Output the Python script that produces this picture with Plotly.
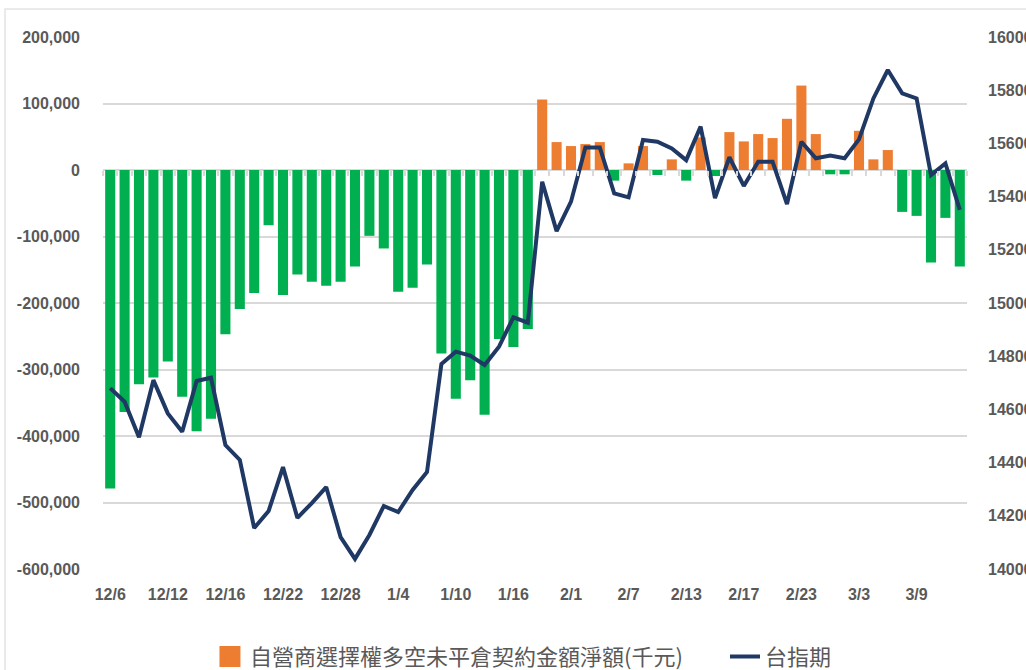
import plotly.graph_objects as go

dates = ["12/6","12/7","12/8","12/9","12/12","12/13","12/14","12/15","12/16","12/19",
         "12/20","12/21","12/22","12/23","12/26","12/27","12/28","12/29","12/30","1/3",
         "1/4","1/5","1/6","1/9","1/10","1/11","1/12","1/13","1/16","1/17",
         "1/30","1/31","2/1","2/2","2/3","2/6","2/7","2/8","2/9","2/10",
         "2/13","2/14","2/15","2/16","2/17","2/20","2/21","2/22","2/23","2/24",
         "3/1","3/2","3/3","3/6","3/7","3/8","3/9","3/10","3/13","3/14"]

net_amount = [-479000,-364000,-322000,-312000,-288000,-341000,-393000,-374000,-247000,-209000,
              -185000,-83000,-188000,-157000,-168000,-174000,-168000,-145000,-99000,-118000,
              -183000,-177000,-142000,-276000,-344000,-316000,-368000,-254000,-266000,-239000,
              106000,42000,36000,39000,42000,-16000,10000,36000,-7500,16000,
              -16000,49000,-9000,57000,43000,54000,48000,77000,127000,54000,
              -6500,-6500,59000,16000,30000,-63000,-69000,-139000,-72000,-145000]

taiex_fut = [14680,14629,14495,14710,14585,14516,14707,14719,14466,14410,
             14154,14218,14383,14192,14248,14308,14120,14038,14128,14237,
             14214,14297,14365,14771,14817,14802,14767,14836,14946,14926,
             15456,15270,15381,15585,15585,15412,15397,15613,15606,15581,
             15537,15663,15394,15548,15440,15531,15531,15372,15606,15544,
             15554,15544,15615,15769,15876,15788,15769,15481,15525,15350]

left_ticks = [-600000,-500000,-400000,-300000,-200000,-100000,0,100000,200000]
left_tick_text = ["-600,000","-500,000","-400,000","-300,000","-200,000","-100,000","0","100,000","200,000"]
right_ticks = [14000,14200,14400,14600,14800,15000,15200,15400,15600,15800,16000]
x_tick_labels = dates[::4]

bar_name = "自營商選擇權多空未平倉契約金額淨額(千元)"
line_name = "台指期"

ORANGE = "#ED7D31"
GREEN = "#00B050"
NAVY = "#1F3864"
GRID = "#D9D9D9"
TXT = "#595959"
TICKFONT = dict(family="Liberation Sans, Arial, sans-serif", size=16, color=TXT, weight="bold")
LEGFONT = dict(family="Noto Sans CJK TC, sans-serif", size=22, color=TXT)

pos_x = [d for d, v in zip(dates, net_amount) if v >= 0]
pos_y = [v for v in net_amount if v >= 0]
neg_x = [d for d, v in zip(dates, net_amount) if v < 0]
neg_y = [v for v in net_amount if v < 0]

fig = go.Figure()
fig.add_trace(go.Bar(x=pos_x, y=pos_y, marker=dict(color=ORANGE, line=dict(width=0)),
                     name=bar_name, showlegend=False))
fig.add_trace(go.Bar(x=neg_x, y=neg_y, marker=dict(color=GREEN, line=dict(width=0)),
                     name=bar_name, showlegend=False))
# legend proxy for the bar series
fig.add_trace(go.Scatter(x=[None], y=[None], mode="markers", name=bar_name, legend="legend",
                         marker=dict(symbol="square", size=16, color=ORANGE,
                                     line=dict(color=ORANGE, width=5))))
fig.add_trace(go.Scatter(x=dates, y=taiex_fut, mode="lines", name=line_name, legend="legend2",
                         line=dict(color=NAVY, width=4), xaxis="x2", yaxis="y2"))

fig.update_layout(
    width=1026, height=670,
    margin=dict(l=103, r=59, t=37, b=101, autoexpand=False),
    paper_bgcolor="white", plot_bgcolor="white",
    barmode="overlay", bargap=0.3,
    font=dict(family="Noto Sans CJK TC, sans-serif", color=TXT),
    xaxis=dict(type="category", categoryorder="array", categoryarray=dates,
               range=[-0.5, len(dates) - 0.5],
               tickmode="array", tickvals=x_tick_labels, ticktext=x_tick_labels,
               tickfont=TICKFONT, showgrid=False, showline=False, zeroline=False,
               ticks="", ticklabelstandoff=14, automargin=False),
    xaxis2=dict(type="category", categoryorder="array", categoryarray=dates,
                overlaying="x", anchor="free", position=0.75,
                range=[-0.5, len(dates) - 0.5], tickson="boundaries",
                tickmode="array", tickvals=dates,
                ticks="outside", ticklen=5, tickwidth=1.5, tickcolor=GRID,
                showticklabels=False, showgrid=False, showline=False, zeroline=False,
                automargin=False),
    yaxis=dict(range=[-600000, 200000], tickmode="array", tickvals=left_ticks,
               ticktext=left_tick_text, tickfont=TICKFONT, showgrid=True,
               gridcolor=GRID, gridwidth=1.5, zeroline=False, showline=False,
               ticks="", ticklabelstandoff=22, automargin=False),
    yaxis2=dict(range=[14000, 16000], overlaying="y", side="right", anchor="x2",
                tickmode="array", tickvals=right_ticks, tickformat="d", tickfont=TICKFONT,
                showgrid=False, zeroline=False, showline=False, ticks="",
                ticklabelstandoff=20, automargin=False),
    legend=dict(orientation="h", x=0.1238, xanchor="left", y=-0.165, yanchor="middle",
                font=LEGFONT, itemwidth=30),
    legend2=dict(orientation="h", x=0.7199, xanchor="left", y=-0.165, yanchor="middle",
                 font=LEGFONT, itemwidth=30),
    shapes=[dict(type="rect", xref="paper", yref="paper", x0=-0.1134, x1=1.3,
                 y0=-0.4, y1=1.0526, line=dict(color="#E3E3E3", width=1.5),
                 fillcolor="rgba(0,0,0,0)", layer="below")],
)

fig.write_html("out.html", config={"displayModeBar": False},
               post_script="document.body.style.margin='0';")
